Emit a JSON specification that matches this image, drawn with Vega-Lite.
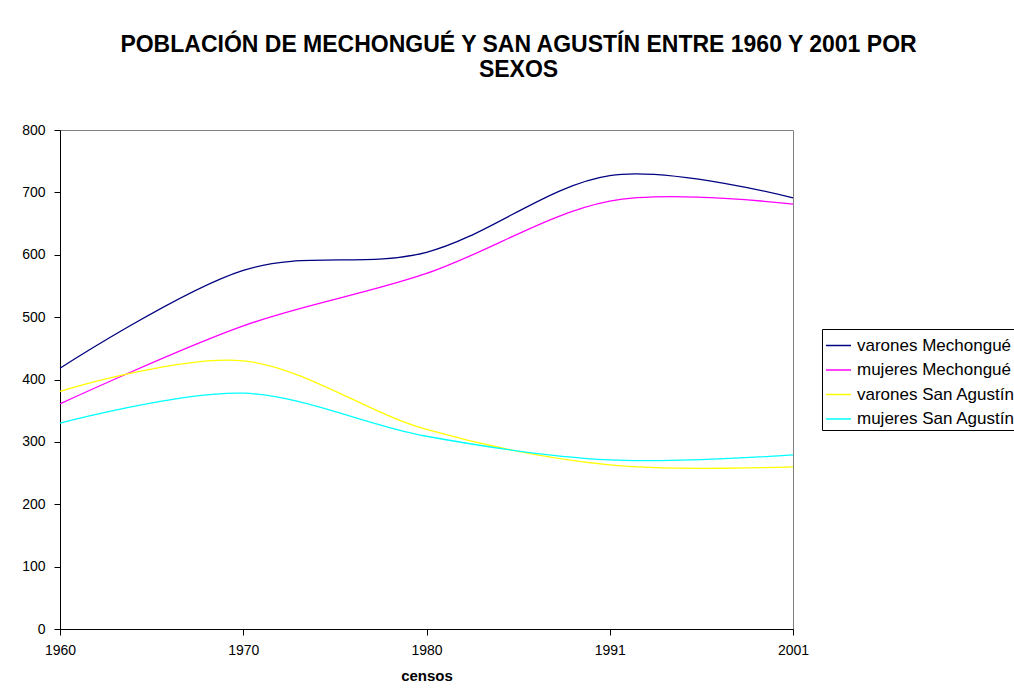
{
  "$schema": "https://vega.github.io/schema/vega-lite/v6.json",
  "width": 733,
  "height": 499,
  "autosize": "none",
  "padding": {"left": 60, "top": 130, "right": 221, "bottom": 62},
  "background": "white",
  "config": {
    "font": "Liberation Sans",
    "view": {"stroke": "#808080", "strokeWidth": 1},
    "axis": {"labelFont": "Liberation Sans", "titleFont": "Liberation Sans", "labelColor": "black", "titleColor": "black", "domainColor": "black", "tickColor": "black", "grid": false}
  },
  "title": {
    "text": ["POBLACIÓN DE MECHONGUÉ Y SAN AGUSTÍN ENTRE 1960 Y 2001 POR", "SEXOS"],
    "font": "Liberation Sans",
    "fontSize": 23,
    "fontWeight": "bold",
    "color": "black",
    "anchor": "middle",
    "dx": 92,
    "offset": 41,
    "lineHeight": 25
  },
  "data": {
    "values": [
      {"censo": "1960", "serie": "varones Mechongué", "valor": 418},
      {"censo": "1970", "serie": "varones Mechongué", "valor": 575},
      {"censo": "1980", "serie": "varones Mechongué", "valor": 604},
      {"censo": "1991", "serie": "varones Mechongué", "valor": 727},
      {"censo": "2001", "serie": "varones Mechongué", "valor": 691},
      {"censo": "1960", "serie": "mujeres Mechongué", "valor": 361},
      {"censo": "1970", "serie": "mujeres Mechongué", "valor": 486},
      {"censo": "1980", "serie": "mujeres Mechongué", "valor": 570},
      {"censo": "1991", "serie": "mujeres Mechongué", "valor": 686},
      {"censo": "2001", "serie": "mujeres Mechongué", "valor": 681},
      {"censo": "1960", "serie": "varones San Agustín", "valor": 381},
      {"censo": "1970", "serie": "varones San Agustín", "valor": 430},
      {"censo": "1980", "serie": "varones San Agustín", "valor": 320},
      {"censo": "1991", "serie": "varones San Agustín", "valor": 263},
      {"censo": "2001", "serie": "varones San Agustín", "valor": 260},
      {"censo": "1960", "serie": "mujeres San Agustín", "valor": 330},
      {"censo": "1970", "serie": "mujeres San Agustín", "valor": 378},
      {"censo": "1980", "serie": "mujeres San Agustín", "valor": 309},
      {"censo": "1991", "serie": "mujeres San Agustín", "valor": 271},
      {"censo": "2001", "serie": "mujeres San Agustín", "valor": 279}
    ]
  },
  "mark": {"type": "line", "interpolate": "cardinal", "strokeWidth": 1.3},
  "encoding": {
    "x": {
      "field": "censo",
      "type": "ordinal",
      "scale": {"type": "point", "padding": 0},
      "axis": {"title": "censos", "titleFontSize": 15, "titleFontWeight": "bold", "titlePadding": 11, "labelFontSize": 14, "labelAngle": 0, "labelPadding": 8, "tickSize": 6, "tickOffset": 0}
    },
    "y": {
      "field": "valor",
      "type": "quantitative",
      "scale": {"domain": [0, 800], "nice": false},
      "axis": {"title": null, "values": [0, 100, 200, 300, 400, 500, 600, 700, 800], "labelFontSize": 14, "labelPadding": 9, "tickSize": 6}
    },
    "color": {
      "field": "serie",
      "type": "nominal",
      "scale": {
        "domain": ["varones Mechongué", "mujeres Mechongué", "varones San Agustín", "mujeres San Agustín"],
        "range": ["#000080", "#FF00FF", "#FFFF00", "#00FFFF"]
      },
      "legend": {
        "title": null,
        "orient": "none",
        "legendX": 762,
        "legendY": 199,
        "symbolType": "stroke",
        "symbolSize": 625,
        "symbolStrokeWidth": 1.5,
        "labelFontSize": 17,
        "labelColor": "black",
        "labelFont": "Liberation Sans",
        "rowPadding": 2.5,
        "labelOffset": 5,
        "padding": 3,
        "strokeColor": "black",
        "fillColor": "white",
        "labelLimit": 300
      }
    }
  }
}
